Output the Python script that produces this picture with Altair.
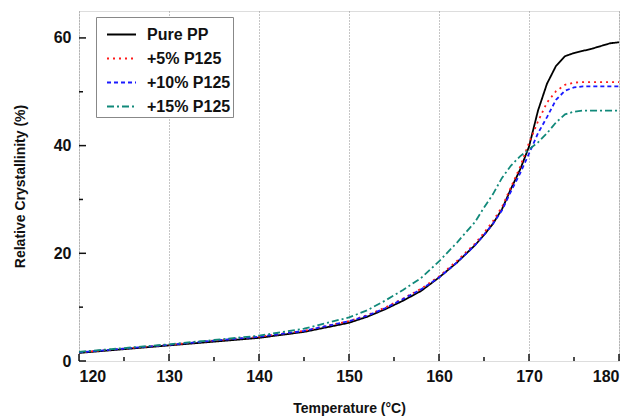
import altair as alt
import pandas as pd

temps = [120, 125, 130, 135, 140, 145, 150, 152, 154, 156, 158, 160, 162, 164, 165, 166, 167,
         168, 169, 170, 171, 172, 173, 174, 175, 176, 177, 178, 179, 180]
pure_pp = [1.5, 2.2, 2.9, 3.6, 4.3, 5.4, 7.1, 8.2, 9.6, 11.2, 13.0, 15.5, 18.3, 21.5, 23.4, 25.5, 28.2,
           32.0, 35.5, 39.8, 46.5, 51.5, 54.8, 56.6, 57.2, 57.6, 58.0, 58.5, 59.0, 59.2]
p5 = [1.6, 2.3, 3.0, 3.8, 4.5, 5.6, 7.4, 8.5, 9.9, 11.6, 13.4, 15.7, 18.6, 21.8, 23.8, 26.0, 28.6,
      32.3, 36.0, 40.5, 44.5, 48.0, 50.1, 51.3, 51.7, 51.8, 51.8, 51.8, 51.8, 51.8]
p10 = [1.6, 2.3, 3.0, 3.8, 4.5, 5.6, 7.4, 8.4, 9.8, 11.5, 13.3, 15.5, 18.3, 21.5, 23.4, 25.5, 28.0,
       31.5, 34.8, 38.5, 42.3, 45.3, 48.5, 50.2, 50.8, 51.0, 51.0, 51.0, 51.0, 51.0]
p15 = [1.7, 2.4, 3.1, 3.9, 4.7, 6.0, 8.1, 9.4, 11.2, 13.2, 15.4, 18.5, 22.0, 25.8, 28.5, 31.0, 34.0,
       36.3, 38.0, 39.3, 40.6, 42.3, 44.3, 45.8, 46.3, 46.5, 46.5, 46.5, 46.5, 46.5]

series_names = ["Pure PP", "+5% P125", "+10% P125", "+15% P125"]
series_colors = ["#000000", "#ff1a1a", "#1a1aff", "#11897a"]
series_dashes = [[1, 0], [2, 4], [4, 3], [7, 3, 2, 3]]

x_major = [120, 130, 140, 150, 160, 170, 180]
x_minor = [125, 135, 145, 155, 165, 175]
y_major = [0, 20, 40, 60]
y_minor = [10, 30, 50]

rows = []
for name, vals in zip(series_names, [pure_pp, p5, p10, p15]):
    for t, v in zip(temps, vals):
        rows.append({"T": t, "X": v, "series": name})
df = pd.DataFrame(rows)

xscale = alt.Scale(domain=[120, 180], nice=False, zero=False)
yscale = alt.Scale(domain=[0, 65], nice=False, zero=False)
FONT = "Liberation Sans"

legend_common = dict(title=None, orient="none", legendX=17, legendY=6,
                     symbolType="stroke", symbolSize=841, symbolStrokeWidth=1.8,
                     symbolOffset=8, rowPadding=-12, labelFont=FONT, labelFontSize=16,
                     labelFontWeight="bold", labelColor="#111", labelOffset=10,
                     padding=2, strokeColor="#888", fillColor="white")

lines = alt.Chart(df).mark_line(strokeWidth=1.8).encode(
    x=alt.X("T:Q", scale=xscale, title="Temperature (°C)",
            axis=alt.Axis(values=x_major, format="d", tickSize=0, domain=False,
                          grid=True, gridDash=[1, 2], gridColor="#8c8c8c", gridWidth=1,
                          labelFont=FONT, labelFontSize=16, labelFontWeight="bold",
                          labelColor="#111", labelPadding=7,
                          titleFont=FONT, titleFontSize=14, titleFontWeight="bold",
                          titleColor="#111", titlePadding=17)),
    y=alt.Y("X:Q", scale=yscale, title="Relative Crystallinity (%)",
            axis=alt.Axis(values=y_major, format="d", tickSize=0, domain=False, grid=False,
                          labelFont=FONT, labelFontSize=16, labelFontWeight="bold",
                          labelColor="#111", labelPadding=8,
                          titleFont=FONT, titleFontSize=14, titleFontWeight="bold",
                          titleColor="#111", titlePadding=26)),
    color=alt.Color("series:N", scale=alt.Scale(domain=series_names, range=series_colors),
                    legend=alt.Legend(**legend_common)),
    strokeDash=alt.StrokeDash("series:N", scale=alt.Scale(domain=series_names, range=series_dashes),
                              legend=alt.Legend(**legend_common)),
    order=alt.Order("T:Q"),
)

xt_major = alt.Chart(pd.DataFrame({"t": x_major})).mark_rule(color="#111", strokeWidth=1.5).encode(
    x=alt.X("t:Q", scale=xscale), y=alt.value(350), y2=alt.value(343))
xt_minor = alt.Chart(pd.DataFrame({"t": x_minor})).mark_rule(color="#111", strokeWidth=1.5).encode(
    x=alt.X("t:Q", scale=xscale), y=alt.value(350), y2=alt.value(346))
yt_major = alt.Chart(pd.DataFrame({"v": y_major})).mark_rule(color="#111", strokeWidth=1.5).encode(
    y=alt.Y("v:Q", scale=yscale), x=alt.value(0), x2=alt.value(7))
yt_minor = alt.Chart(pd.DataFrame({"v": y_minor})).mark_rule(color="#111", strokeWidth=1.5).encode(
    y=alt.Y("v:Q", scale=yscale), x=alt.value(0), x2=alt.value(4))

chart = alt.layer(lines, xt_major, xt_minor, yt_major, yt_minor).properties(
    width=540, height=350,
    autosize=alt.AutoSizeParams(type="none"),
    padding={"left": 79, "top": 11, "right": 17, "bottom": 57},
).configure_view(stroke="#111", strokeWidth=1.6).configure(background="white")

chart.save("out.html", embed_options={"renderer": "svg", "actions": False})
